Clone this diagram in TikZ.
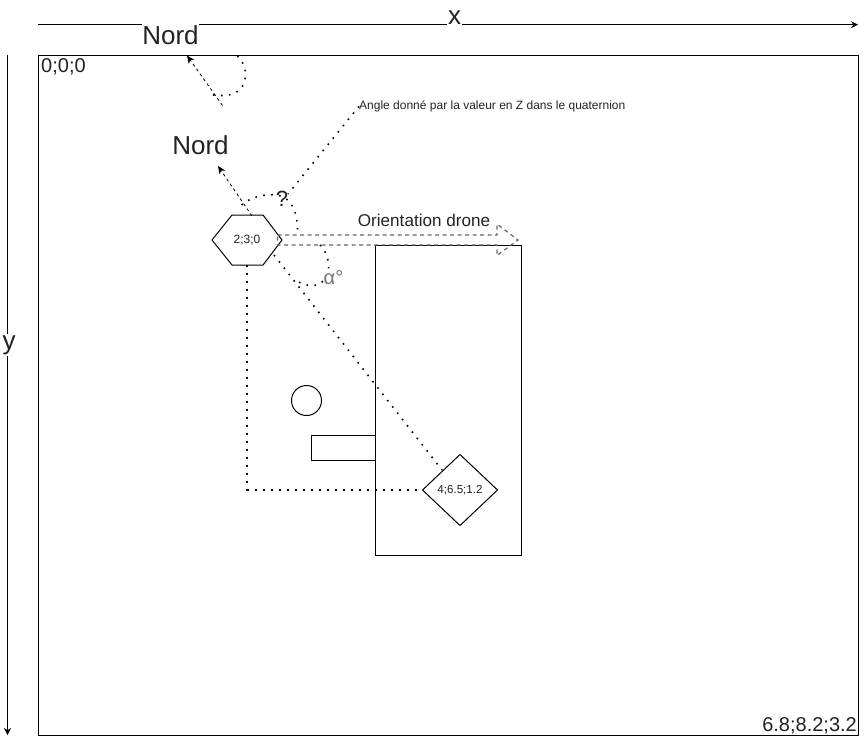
\documentclass[tikz,border=0pt]{standalone}
\usepackage{fontspec}
\setmainfont{Liberation Sans}
\usetikzlibrary{arrows.meta,shapes.geometric}
\definecolor{txt}{HTML}{222222}
\tikzset{
  box/.style={draw=black,line width=1pt,fill=none,outer sep=0pt},
  axis/.style={draw=black,line width=1pt,-{Stealth[length=7pt,width=7pt]}},
  lbl/.style={inner sep=0pt,text=txt,font=\fontsize{#1}{#1}\selectfont},
  masked/.style={fill=white,inner sep=1pt,text=txt,font=\fontsize{#1}{#1}\selectfont},
  dots/.style={draw=black,line width=1.6pt,dash pattern=on 1.6pt off 6.4pt},
  north/.style={draw=black,line width=0.8pt,dash pattern=on 3pt off 3pt,-{Stealth[length=8pt,width=7pt]}},
  orient/.style={draw=black!60,line width=1.2pt,dash pattern=on 4pt off 3.5pt,line join=miter}
}
\begin{document}
\begin{tikzpicture}[x=1pt,y=-1pt]
\useasboundingbox (0,0) rectangle (866,744);
% frame
\node[box,minimum width=820pt,minimum height=680pt,inner sep=0pt,anchor=north west] (room) at (38.5,55.5) {};
% axes
\coordinate (xs) at (38,24.7); \coordinate (xe) at (858,24.7);
\coordinate (ys) at (7.5,55); \coordinate (ye) at (7.5,735);
\draw[axis] (xs) -- (xe);
\draw[axis] (ys) -- (ye);
\node[masked=26,inner sep=1pt] (xl) at (454.5,18) {x};
\node[masked=26] (yl) at (9,345) {y};
\node[masked=26,inner xsep=0pt,inner ysep=3pt] (n1) at (170.5,35) {Nord};
% rectangles and circle
\node[box,minimum width=146pt,minimum height=310pt,inner sep=0pt,anchor=north west] (big) at (375.5,245.5) {};
\node[box,minimum width=64pt,minimum height=25pt,inner sep=0pt,anchor=north west] (small) at (311.5,435.5) {};
\node[box,circle,minimum size=30pt,inner sep=0pt] (circ) at (306.5,400.5) {};
% hexagon and diamond
\node[minimum width=70pt,minimum height=50pt,inner sep=0pt,outer sep=0pt,lbl=12] (hex) at (247,240) {2;3;0};
\draw[box,line join=miter] (hex.west) -- ([xshift=20pt]hex.north west) -- ([xshift=-19pt]hex.north east) -- (hex.east) -- ([xshift=-19pt]hex.south east) -- ([xshift=20pt]hex.south west) -- cycle;
\node[draw=black,line width=1pt,diamond,aspect=1,minimum width=75pt,minimum height=71pt,inner sep=0pt,outer sep=0pt,lbl=11] (dia) at (460,490) {};
\node[lbl=11.6] (dial) at (460,490) {4;6.5;1.2};
% dotted connectors
\coordinate (corner) at (247,495);
\coordinate (hexd) at (274,255);
\coordinate (diad) at (442,470);
\draw[dots] (hex.south) -- (corner);
\draw[dots] (247,490) -- (dia.west);
\draw[dots] (hexd) -- (diad);
% north arrows
\coordinate (ts) at (222.5,105.5); \coordinate (te) at (187,55.5);
\coordinate (ms) at (252,216); \coordinate (me) at (218,166);
\draw[north] (ts) -- (te);
\draw[north] (ms) -- (me);
\node[lbl=26] (n2) at (200.5,145) {Nord};
% angle arcs
\draw[dots] (213,95) .. controls (228,97) and (245,95) .. (245.5,74) .. controls (245.5,66) and (241,60) .. (237.5,56);
\draw[dots] (241.5,205) .. controls (252,196) and (266,194) .. (276,195) .. controls (292,197) and (298,212) .. (297.5,234);
% angle label leader
\node[lbl=12,anchor=west] (ang) at (359,106.3) {Angle donné par la valeur en Z dans le quaternion};
\coordinate (angs) at (288,194);
\draw[dots] (ang.west) -- (angs);
\node[lbl=22] (q) at (282,199) {?};
% orientation
\draw[orient] (277.5,235) -- (497,235) -- (497,224) -- (518,240) -- (497,255.5) -- (497,245) -- (277.5,245) -- cycle;
\node[lbl=17.1] (ol) at (424,220.3) {Orientation drone};
% alpha arc
\draw[dots] (320,245) .. controls (330,255) and (334,278) .. (317,285) .. controls (310,287) and (302,284) .. (295,280);
\node[masked=20,text=black!55,inner sep=0pt] (al) at (333.5,278) {α°};
% corners
\node[lbl=20,anchor=west] (o) at (41,67) {0;0;0};
\node[lbl=20,anchor=east] (f) at (857,726) {6.8;8.2;3.2};
\end{tikzpicture}
\end{document}
